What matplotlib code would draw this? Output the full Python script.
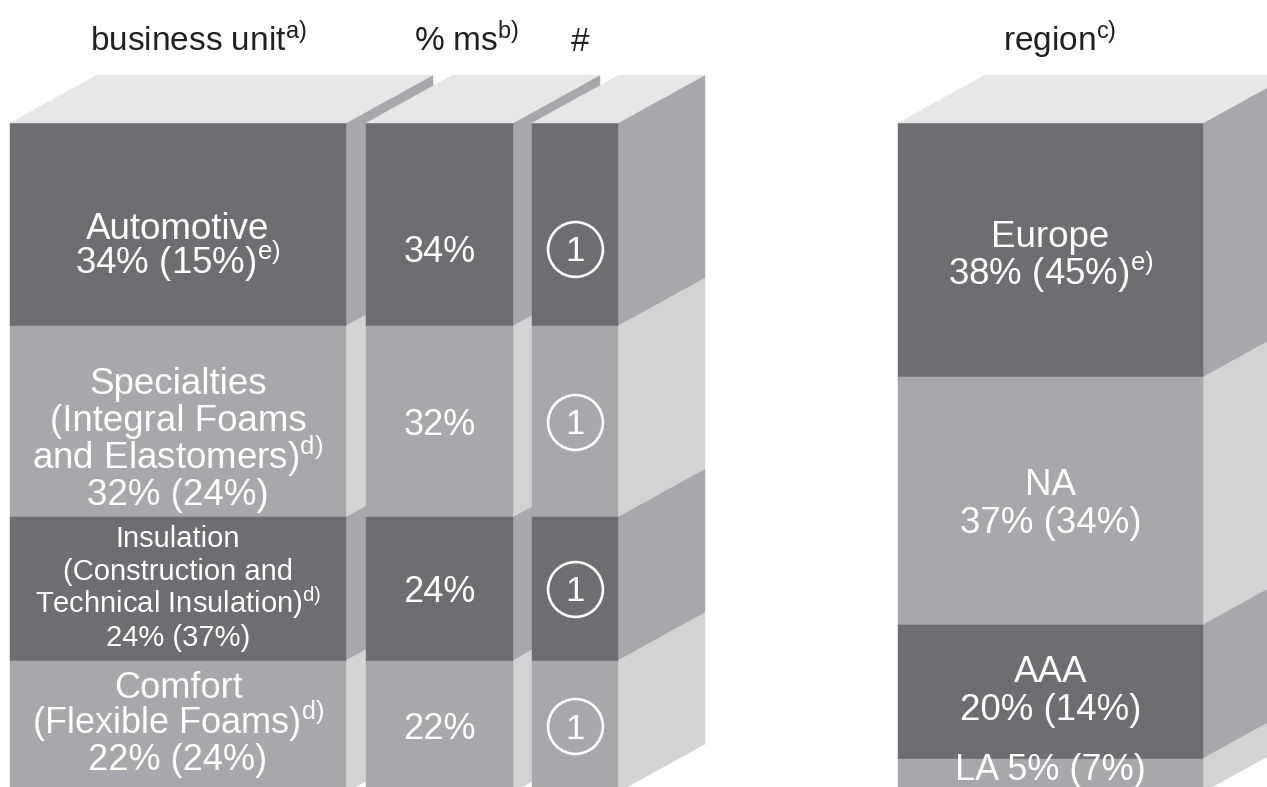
import matplotlib
matplotlib.use("Agg")
import matplotlib.pyplot as plt
from matplotlib.patches import Polygon
from matplotlib import font_manager
import numpy as np

plt.rcParams['font.family'] = ['Liberation Sans', 'DejaVu Sans']
plt.rcParams['mathtext.fontset'] = 'custom'
plt.rcParams['mathtext.rm'] = 'Liberation Sans'
plt.rcParams['mathtext.it'] = 'Liberation Sans'
plt.rcParams['mathtext.bf'] = 'Liberation Sans:bold'

# ---------------- data ----------------
bu_names = [["Automotive"],
            ["Specialties", "(Integral Foams", "and Elastomers)$^{\\mathrm{d)}}$"],
            ["Insulation", "(Construction and", "Technical Insulation)$^{\\mathrm{d)}}$"],
            ["Comfort", "(Flexible Foams)$^{\\mathrm{d)}}$"]]
bu_share = [34, 32, 24, 22]          # % of sales
bu_prev = [15, 24, 37, 24]           # value in parentheses
bu_note = ["e)", "", "", ""]
bu_ms = [34, 32, 24, 22]             # % market share
bu_rank = [1, 1, 1, 1]               # market position

region_names = ["Europe", "NA", "AAA", "LA"]
region_share = [38, 37, 20, 5]
region_prev = [45, 34, 14, 7]
region_note = ["e)", "", "", ""]

headers = ["business unit$^{\\mathrm{a)}}$", "% ms$^{\\mathrm{b)}}$", "#", "region$^{\\mathrm{c)}}$"]

# ---------------- style / layout ----------------
DARK, LIGHT = "#6d6e72", "#a7a8ac"
SIDE_DARK, SIDE_LIGHT = "#a7a8ac", "#d2d3d5"
TOP = "#e6e7e8"
TXT = "#231f20"
front_cols = [DARK, LIGHT, DARK, LIGHT]
side_cols = [SIDE_DARK, SIDE_LIGHT, SIDE_DARK, SIDE_LIGHT]

PX = 669.0                 # pixels per unit of stack height
DX, DY = 87, 48 / PX       # depth offset
cols = {"bu": (10, 336), "ms": (366, 147), "rank": (532, 86), "region": (898, 305)}

names_avail = {f.name for f in font_manager.fontManager.ttflist}
if "Liberation Sans Narrow" in names_avail:
    HEAD_FONT, HEAD_SIZE = "Liberation Sans Narrow", 28
else:
    HEAD_FONT, HEAD_SIZE = "Liberation Sans", 24

fig = plt.figure(figsize=(12.67, 7.87), dpi=100)
ax = fig.add_axes([0, 0, 1, 1])
ax.set_xlim(0, 1267)
ax.set_ylim(1 + 123 / PX - 787 / PX, 1 + 123 / PX)
ax.axis("off")


def stack(values):
    v = np.asarray(values, float)
    frac = v / v.sum()
    tops = 1 - np.concatenate([[0], np.cumsum(frac)[:-1]])
    return frac, tops - frac


def draw_column(key, values, z):
    left, width = cols[key]
    frac, bottoms = stack(values)
    right = left + width
    for i, (f, b) in enumerate(zip(frac, bottoms)):
        t = b + f
        ax.add_patch(Polygon([(right, b), (right, t), (right + DX, t + DY), (right + DX, b + DY)],
                             closed=True, fc=side_cols[i], ec=side_cols[i], lw=0.3, zorder=z))
    ax.bar([left] * len(frac), frac, bottom=bottoms, width=width, align="edge",
           color=front_cols[:len(frac)], edgecolor=front_cols[:len(frac)], linewidth=0.3, zorder=z + 0.1)
    ax.add_patch(Polygon([(left, 1), (right, 1), (right + DX, 1 + DY), (left + DX, 1 + DY)],
                         closed=True, fc=TOP, ec=TOP, lw=0.3, zorder=z + 0.2))
    return left + width / 2, bottoms + frac / 2


def lines_label(x, yc, lines, size, spacing_px, z, dy_px=0):
    n = len(lines)
    for i, s in enumerate(lines):
        off_px = (n - 1) / 2 * spacing_px - i * spacing_px - dy_px - size * 100 / 72 * 0.36
        ax.annotate(s, xy=(x, yc), xytext=(0, off_px * 72 / 100), textcoords="offset points",
                    ha="center", va="baseline", color="white", fontsize=size, zorder=z)


def pct(a, b, note):
    s = f"{a}% ({b}%)"
    if note:
        s += "$^{\\mathrm{" + note + "}}$"
    return s


label_shift_px = [24, 0, 0, 0]     # single-line labels (ms, rank) offset, pixels down
bu_shift_px = [19, 15, -3, -5]     # business-unit text blocks offset, pixels down

# business unit column
xc, yc = draw_column("bu", bu_share, 1)
sizes = [26.5, 26.5, 21, 26]
spac = [35, 37, 33, 36]
for i in range(4):
    lines = bu_names[i] + [pct(bu_share[i], bu_prev[i], bu_note[i])]
    lines_label(xc, yc[i], lines, sizes[i], spac[i], 10, bu_shift_px[i])

# market share column
xc, yc = draw_column("ms", bu_share, 2)
for i in range(4):
    lines_label(xc, yc[i], [f"{bu_ms[i]}%"], 26, 36, 10, label_shift_px[i])

# rank column
xc, yc = draw_column("rank", bu_share, 3)
for i in range(4):
    lines_label(xc, yc[i], [str(bu_rank[i])], 25, 36, 10, label_shift_px[i])
    yy = yc[i] - label_shift_px[i] / PX
    ax.plot([xc], [yy], marker="o", ms=39.5, mfc="none", mec="white", mew=1.9, zorder=10)

# region column
xc, yc = draw_column("region", region_share, 4)
region_shift_px = [3, 0, -4, -8]
for i in range(4):
    if i < 3:
        lines = [region_names[i], pct(region_share[i], region_prev[i], region_note[i])]
        lines_label(xc, yc[i], lines, 26.5, 38, 10, region_shift_px[i])
    else:
        lines_label(xc, yc[i], [f"{region_names[i]} " + pct(region_share[i], region_prev[i], region_note[i])],
                    26, 36, 10, region_shift_px[i])

# headers
hx = [198, 467, 580, 1060]
for x, h in zip(hx, headers):
    ax.text(x, 1 + 123 / PX - 51 / PX, h, ha="center", va="baseline", fontsize=HEAD_SIZE,
            color=TXT, family=HEAD_FONT)

fig.savefig("out.png", dpi=100)
